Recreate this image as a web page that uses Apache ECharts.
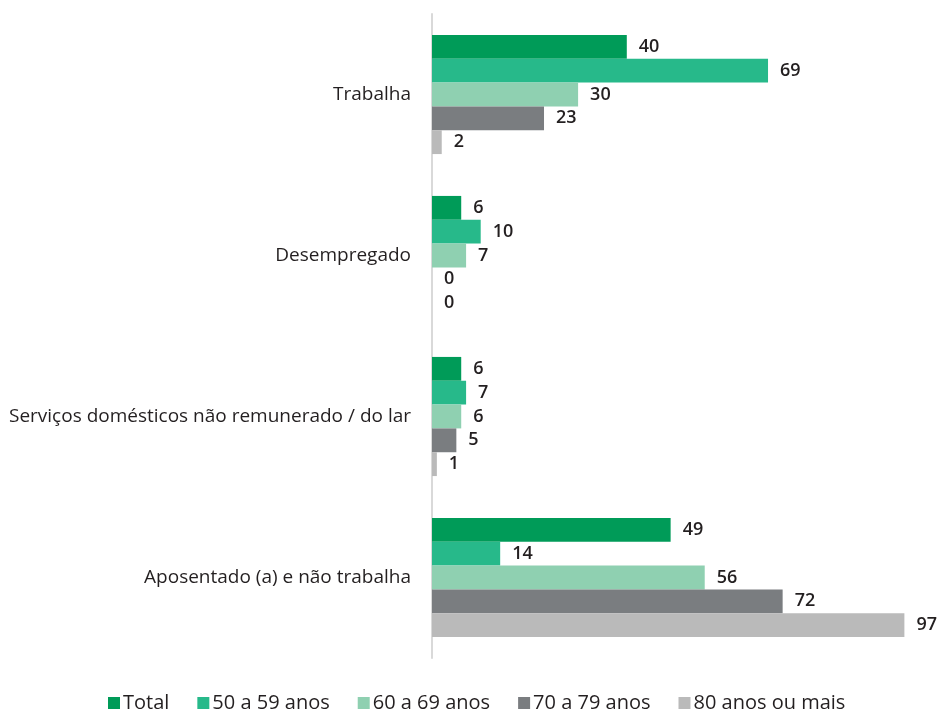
<!DOCTYPE html>
<html>
<head>
<meta charset="utf-8">
<script src="https://cdn.jsdelivr.net/npm/echarts@6/dist/echarts.min.js"></script>
<style>
html,body{margin:0;padding:0;background:#fff;}
#main{width:940px;height:713px;}
</style>
</head>
<body>
<div id="main"></div>
<script>
var categories = ['Trabalha', 'Desempregado', 'Serviços domésticos não remunerado / do lar', 'Aposentado (a) e não trabalha'];
var seriesNames = ['Total', '50 a 59 anos', '60 a 69 anos', '70 a 79 anos', '80 anos ou mais'];
var total = [40, 6, 6, 49];
var age50 = [69, 10, 7, 14];
var age60 = [30, 7, 6, 56];
var age70 = [23, 0, 5, 72];
var age80 = [2, 0, 1, 97];
var colors = ['#009b58', '#27b98a', '#8fd0b1', '#7a7d80', '#bababa'];

var myChart = echarts.init(document.getElementById('main'));
var values = [total, age50, age60, age70, age80];
var series = [];
for (var i = 0; i < seriesNames.length; i++) {
	series.push({
		name: seriesNames[i],
		type: 'bar',
		data: values[i],
		barGap: '0%',
		barCategoryGap: '26%',
		itemStyle: {color: colors[i]},
		label: {
			show: true,
			position: 'right',
			distance: 12,
			color: '#231f20',
			fontSize: 18,
			fontFamily: 'Open Sans',
			fontWeight: 600
		}
	});
}
var option = {
	animation: false,
	color: colors,
	grid: {left: 432, right: 21, top: 14, bottom: 55, containLabel: false},
	legend: {
		top: 693,
		left: 108,
		padding: 0,
		itemWidth: 12,
		itemHeight: 12,
		itemGap: 28,
		icon: 'rect',
		textStyle: {fontSize: 20, color: '#231f20', fontFamily: 'Open Sans', padding: [0, 0, 0, -2]}
	},
	xAxis: {
		type: 'value',
		min: 0,
		max: 100,
		show: false
	},
	yAxis: {
		type: 'category',
		inverse: true,
		data: categories,
		axisLine: {show: true, lineStyle: {color: '#d9d9d9', width: 2}},
		axisTick: {show: false},
		axisLabel: {margin: 21, fontSize: 19, color: '#231f20', fontFamily: 'Open Sans'}
	},
	series: series
};
myChart.setOption(option);
</script>
</body>
</html>
